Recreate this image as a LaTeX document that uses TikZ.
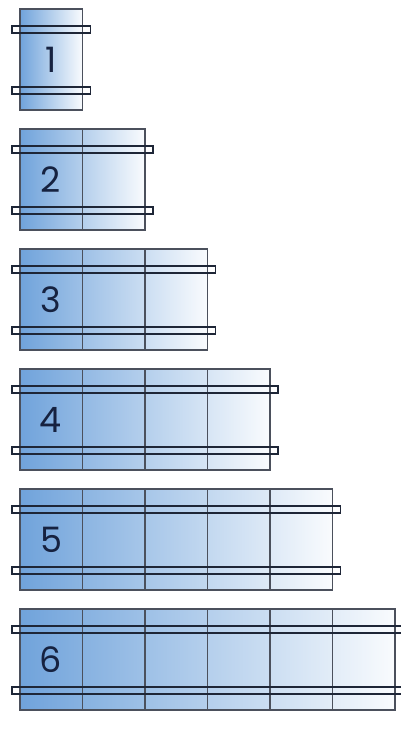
\documentclass[tikz,border=0pt]{standalone}
\usepackage{fontspec}
\newfontfamily\numfont{Poppins}
\definecolor{panelblue}{RGB}{112,163,219}
\definecolor{edgegray}{RGB}{75,80,92}
\definecolor{barnavy}{RGB}{30,38,55}
\definecolor{numnavy}{RGB}{22,34,64}
\tikzset{
  panel/.style={left color=panelblue, right color=white!96!panelblue, draw=edgegray, line width=1.3pt},
  divider/.style={draw=edgegray, line width=1.4pt},
  bar/.style={draw=barnavy, line width=1.5pt},
  num/.style={font=\numfont\fontsize{35}{35}\selectfont, text=numnavy, inner sep=0pt}
}
\begin{document}
\begin{tikzpicture}[x=1pt,y=-1pt]
\useasboundingbox (0,0) rectangle (401,733);
\clip (0,0) rectangle (401,733);
\foreach \n in {1,...,6}{
  \pgfmathsetmacro{\t}{9+120*(\n-1)}
  \pgfmathsetmacro{\r}{20+62.5*\n}
  \shade[panel] (20,\t) rectangle (\r,\t+101);
  \ifnum\n>1
    \foreach \k in {2,...,\n}{
      \pgfmathsetmacro{\xx}{20+62.5*(\k-1)}
      \draw[divider] (\xx,\t) -- (\xx,\t+101);
    }
  \fi
  \draw[bar] (12,\t+17) rectangle (\r+8,\t+24);
  \draw[bar] (12,\t+78) rectangle (\r+8,\t+85);
  \node[num] (n\n) at (51,\t+51) {\n};
}
\end{tikzpicture}
\end{document}
